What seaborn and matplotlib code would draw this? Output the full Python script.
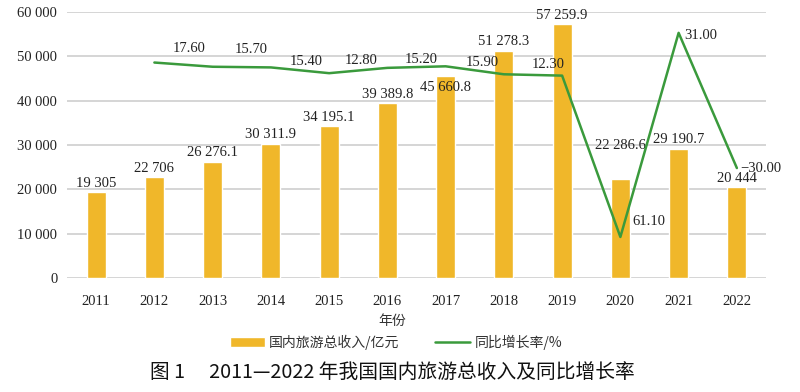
import matplotlib
matplotlib.use("Agg")
import matplotlib.pyplot as plt
import seaborn as sns
import pandas as pd
from matplotlib.ticker import FuncFormatter, FixedLocator

# ---- data ----
years = [2011, 2012, 2013, 2014, 2015, 2016, 2017, 2018, 2019, 2020, 2021, 2022]
revenue = [19305, 22706, 26276.1, 30311.9, 34195.1, 39389.8, 45660.8,
           51278.3, 57259.9, 22286.6, 29190.7, 20444]
growth_years = [2012, 2013, 2014, 2015, 2016, 2017, 2018, 2019, 2020, 2021, 2022]
growth = [17.6, 15.7, 15.4, 12.8, 15.2, 15.9, 12.3, 11.7, -61.1, 31.0, -30.0]
growth_label_years = [2013, 2014, 2015, 2016, 2017, 2018, 2019, 2020, 2021, 2022]
growth_labels = ["17.60", "15.70", "15.40", "12.80", "15.20", "15.90", "12.30",
                 "61.10", "31.00", "\u221230.00"]
yticks = [0, 10000, 20000, 30000, 40000, 50000, 60000]
bar_name = "国内旅游总收入/亿元"
line_name = "同比增长率/%"
xlabel = "年份"
caption = "图 1\u3000 2011—2022 年我国国内旅游总收入及同比增长率"

BAR = "#F0B72A"
LINE = "#3A9A3C"
GRID = "#D2D2D2"
SERIF = ["Liberation Serif", "DejaVu Serif"]
CJK = ["Noto Sans CJK SC", "DejaVu Sans"]

sns.set_theme(style="white")
plt.rcParams["font.family"] = SERIF
plt.rcParams["axes.unicode_minus"] = True


def fmt_num(v):
    if float(v).is_integer():
        s = f"{int(v):,}"
    else:
        s = f"{v:,.1f}"
    return s.replace(",", " ")


fig = plt.figure(figsize=(8, 3.92), dpi=100)
ax = fig.add_axes([67 / 800, 114 / 392, 699 / 800, 266 / 392])

df_bar = pd.DataFrame({"year": years, "revenue": revenue})
sns.barplot(data=df_bar, x="year", y="revenue", native_scale=True, width=0.33,
            color=BAR, saturation=1, ax=ax, label=bar_name, zorder=2)
ax.set_xlim(2010.5, 2022.5)
ax.set_ylim(0, 60000)
ax.yaxis.set_major_locator(FixedLocator(yticks))
ax.yaxis.set_major_formatter(FuncFormatter(lambda v, p: fmt_num(v)))
ax.set_xticks(years)
ax.set_xticklabels([str(y) for y in years])
ax.yaxis.grid(True, color=GRID, lw=1.3)
ax.xaxis.grid(False)
ax.set_axisbelow(True)
for sp in ax.spines.values():
    sp.set_visible(False)
ax.tick_params(axis="both", length=0, labelsize=10.5, colors="#222222")
ax.tick_params(axis="x", pad=12)
ax.tick_params(axis="y", pad=7)
ax.set_ylabel("")
ax.set_xlabel(xlabel, fontfamily=CJK, fontsize=10, color="#333333")
ax.xaxis.set_label_coords((392 - 67) / 699, -0.135)

# bar value labels
dy_special = {2017: -12, 2020: 34}
for yr, v in zip(years, revenue):
    ax.annotate(fmt_num(v), xy=(yr, v), xytext=(0, dy_special.get(yr, 9)),
                textcoords="offset pixels", ha="center", va="center",
                fontsize=10.5, color="#222222", zorder=5)

# growth line on hidden secondary axis
ax2 = ax.twinx()
sns.lineplot(x=growth_years, y=growth, ax=ax2, color=LINE, lw=1.8,
             label=line_name)
ax2.set_ylim(-79.6, 40.4)
ax2.set_xlim(2010.5, 2022.5)
ax2.set_axis_off()

gmap = dict(zip(growth_years, growth))
offsets = {2013: (-23, 18, "center"), 2014: (-20, 18, "center"),
           2015: (-23, 12, "center"), 2016: (-26, 7, "center"),
           2017: (-24, 7, "center"), 2018: (-22, 12, "center"),
           2019: (-14, 11, "center"), 2020: (12, 15, "left"),
           2021: (6, -3, "left"), 2022: (3, 0, "left")}
for yr, txt in zip(growth_label_years, growth_labels):
    dx, dy, ha = offsets[yr]
    ax2.annotate(txt, xy=(yr, gmap[yr]), xytext=(dx, dy),
                 textcoords="offset pixels", ha=ha, va="center",
                 fontsize=10.5, color="#222222")

# legend
h1, l1 = ax.get_legend_handles_labels()
h2, l2 = ax2.get_legend_handles_labels()
for a in (ax, ax2):
    if a.get_legend() is not None:
        a.get_legend().remove()
fig.legend(h1 + h2, l1 + l2, loc="center", bbox_to_anchor=(396 / 800, 1 - 342 / 392),
           ncol=2, frameon=False, prop={"family": CJK, "size": 10},
           handlelength=2.5, handleheight=0.7, handletextpad=0.3,
           columnspacing=2.6, labelcolor="#333333")

fig.text(392 / 800, 1 - 372 / 392, caption, ha="center", va="center",
         fontsize=14.2, fontfamily=CJK, fontweight="medium", color="#111111")

fig.savefig("out.png", dpi=100)
